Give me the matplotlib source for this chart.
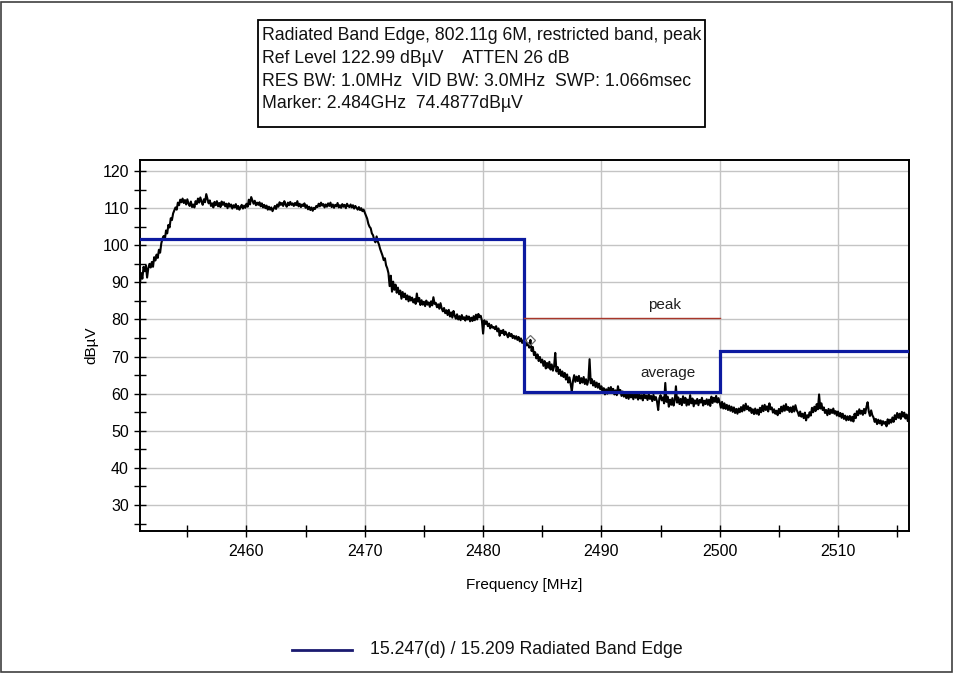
import numpy as np
import matplotlib
matplotlib.use("Agg")
import matplotlib.pyplot as plt
from matplotlib.patches import Rectangle
from matplotlib.lines import Line2D
from matplotlib.ticker import MultipleLocator

plt.rcParams['font.family'] = ['Liberation Sans', 'DejaVu Sans']

# ---- sweep settings (header text) ----
title_lines = [
    "Radiated Band Edge, 802.11g 6M, restricted band, peak",
    "Ref Level 122.99 dB\u00b5V    ATTEN 26 dB",
    "RES BW: 1.0MHz  VID BW: 3.0MHz  SWP: 1.066msec",
    "Marker: 2.484GHz  74.4877dB\u00b5V",
]
ref_level = 122.99
marker_freq_mhz = 2484.0
marker_level = 74.4877

# ---- measured trace: 2451 .. 2516 MHz, 0.1 MHz per point ----
f_start, f_stop = 2451.0, 2516.0
trace_dbuv = [
    89.8, 92.5, 91.0, 94.2, 93.0, 94.5, 91.3, 93.8, 95.0, 94.0,
    95.5, 94.2, 96.8, 95.9, 97.5, 96.6, 98.8, 98.0, 100.5, 101.8,
    102.5, 101.5, 104.0, 103.2, 105.5, 104.8, 107.3, 106.8, 108.6, 109.4,
    110.2, 109.6, 111.5, 110.8, 112.3, 111.6, 112.6, 111.4, 112.2, 111.0,
    112.4, 111.2, 110.6, 111.8, 110.3, 111.0, 110.2, 111.9, 111.1, 112.6,
    111.5, 112.9, 111.8, 110.9, 112.4, 111.6, 113.8, 112.5, 111.3, 112.1,
    110.6, 111.3, 110.2, 111.7, 110.8, 111.9, 110.5, 111.4, 110.3, 111.8,
    110.9, 111.6, 110.5, 111.2, 110.0, 111.3, 110.4, 111.0, 109.9, 110.8,
    110.2, 111.1, 109.8, 110.6, 109.6, 110.3, 110.9, 109.9, 110.7, 110.1,
    111.2, 110.4, 112.3, 111.0, 113.0, 112.1, 111.2, 112.0, 110.8, 111.5,
    110.9, 111.6, 110.5, 111.3, 110.2, 110.9, 110.0, 110.7, 109.6, 110.4,
    109.6, 110.2, 109.2, 109.9, 110.6, 109.8, 111.0, 110.4, 111.6, 110.9,
    111.4, 110.6, 111.9, 111.0, 110.4, 111.5, 110.8, 111.7, 110.9, 111.3,
    110.6, 111.4, 110.8, 111.9, 110.5, 111.2, 110.3, 111.0, 110.6, 111.3,
    110.1, 110.8, 109.7, 110.4, 109.5, 110.2, 109.3, 110.1, 109.8, 110.6,
    110.3, 111.2, 110.5, 111.5, 110.7, 111.1, 110.2, 111.0, 110.4, 111.3,
    110.6, 111.5, 110.3, 111.0, 110.1, 110.9, 110.5, 111.4, 110.2, 110.8,
    110.1, 111.1, 110.4, 110.9, 110.0, 111.2, 110.6, 110.3, 111.0, 110.2,
    110.8, 109.9, 110.6, 110.1, 109.6, 110.3, 109.5, 110.0, 109.2, 109.6,
    108.8, 108.0, 107.2, 105.8, 105.0, 104.6, 103.2, 102.7, 101.4, 100.8,
    102.4, 101.0, 100.2, 99.0, 98.1, 97.2, 96.0, 96.5, 94.6, 93.8,
    92.5, 89.0, 91.8, 87.5, 90.2, 88.0, 89.4, 87.2, 88.6, 86.8,
    87.8, 85.6, 87.4, 86.0, 87.0, 85.4, 86.5, 84.9, 86.2, 85.1,
    85.9, 84.6, 85.5, 84.2, 87.0, 84.8, 85.8, 83.9, 85.2, 84.0,
    84.8, 83.6, 85.1, 84.0, 84.6, 83.4, 84.9, 83.8, 86.0, 84.2,
    84.5, 83.3, 84.1, 82.9, 84.4, 83.0, 82.2, 83.1, 81.7, 82.5,
    81.2, 82.6, 80.8, 81.9, 80.5, 82.3, 81.0, 80.2, 81.4, 80.0,
    80.9, 79.8, 81.2, 80.1, 80.6, 79.7, 81.0, 80.0, 80.8, 79.5,
    80.5, 79.6, 80.9, 79.8, 81.3, 80.0, 81.5, 80.6, 81.0, 79.7,
    76.2, 79.8, 78.8, 79.5, 78.2, 78.9, 77.6, 78.5, 77.8, 78.0,
    77.4, 78.2, 76.8, 77.6, 75.6, 77.0, 76.3, 77.2, 75.8, 76.7,
    76.0, 75.2, 76.4, 75.5, 76.1, 75.0, 75.6, 74.8, 75.5, 74.5,
    75.3, 74.1, 74.9, 73.7, 74.4, 72.8, 74.6, 73.0, 73.6, 72.4,
    74.5, 71.5, 72.6, 70.4, 71.2, 69.5, 70.6, 68.8, 69.9, 68.4,
    69.2, 67.5, 68.8, 66.8, 68.3, 67.0, 68.6, 66.5, 67.9, 66.2,
    67.4, 71.0, 66.0, 67.2, 65.3, 66.5, 64.8, 66.0, 64.5, 65.6,
    63.8, 65.2, 63.0, 64.4, 62.6, 60.6, 63.5, 65.0, 63.2, 64.6,
    63.4, 64.8, 62.8, 64.2, 63.0, 64.5, 62.6, 63.9, 62.4, 63.6,
    69.3, 62.8, 63.9, 62.2, 63.4, 61.8, 63.0, 61.6, 62.7, 61.2,
    62.0, 60.4, 61.5, 59.8, 61.2, 60.0, 61.6, 60.3, 61.8, 60.5,
    61.3, 59.8, 60.9, 59.6, 62.0, 60.2, 61.0, 59.4, 60.6, 59.2,
    60.2, 58.8, 59.9, 58.6, 60.3, 59.0, 59.8, 58.5, 60.1, 58.9,
    59.8, 58.4, 60.0, 58.7, 59.6, 58.2, 60.2, 58.8, 59.5, 58.3,
    59.9, 58.6, 59.4, 58.0, 59.7, 58.3, 59.1, 57.9, 55.6, 58.8,
    59.6, 58.2, 59.0, 57.4, 62.9, 57.8, 59.2, 56.5, 58.4, 57.0,
    58.8, 56.8, 58.2, 62.0, 57.6, 59.0, 57.2, 58.6, 56.9, 59.3,
    57.5, 58.9, 56.8, 58.4, 57.0, 59.6, 57.4, 58.7, 56.6, 58.2,
    57.3, 58.6, 56.9, 58.3, 57.6, 58.9, 56.8, 58.1, 57.2, 58.5,
    57.0, 58.4, 56.7, 59.2, 57.5, 58.9, 57.8, 59.4, 57.6, 58.8,
    57.6, 56.2, 57.8, 56.0, 57.4, 55.9, 57.0, 55.6, 56.8, 55.4,
    56.5, 55.1, 56.3, 54.8, 55.9, 54.6, 56.0, 55.0, 56.4, 55.2,
    56.9, 55.5, 57.3, 55.8, 56.6, 55.4, 56.2, 54.8, 55.8, 54.5,
    56.0, 54.6, 55.7, 54.3, 56.2, 55.0, 56.8, 55.3, 57.0, 55.6,
    56.6, 55.2, 57.4, 55.8, 56.3, 54.9, 55.8, 54.6, 55.4, 54.2,
    55.9, 54.7, 56.5, 55.2, 56.8, 55.4, 57.2, 55.6, 56.4, 55.1,
    56.3, 55.0, 56.6, 55.2, 56.9, 55.6, 55.0, 54.0, 55.2, 53.8,
    54.6, 53.4, 54.9, 52.8, 54.2, 53.6, 55.0, 54.1, 56.2, 55.0,
    56.5, 55.3, 57.2, 55.8, 59.8, 56.0, 57.4, 55.6, 56.3, 54.8,
    55.6, 54.2, 55.9, 54.5, 55.7, 54.8, 56.0, 54.6, 55.3, 54.1,
    55.2, 53.9, 54.8, 53.5, 54.6, 53.2, 54.1, 52.8, 53.9, 52.9,
    54.0, 52.7, 53.8, 52.5, 54.6, 53.4, 55.3, 54.2, 55.8, 54.6,
    55.4, 54.3, 55.9, 54.7, 56.4, 57.7, 55.2, 54.0, 55.5, 54.2,
    53.6, 52.4, 53.2, 51.8, 53.0, 52.0, 52.8, 51.5, 52.6, 51.9,
    52.4, 51.2, 53.1, 51.9, 53.0, 52.2, 53.6, 52.4, 54.2, 53.1,
    54.8, 53.5, 54.6, 53.2, 55.1, 53.8, 54.9, 53.3, 54.4, 52.6,
    53.4,
]
trace_freq = np.linspace(f_start, f_stop, len(trace_dbuv))

# ---- limit line (15.247(d) / 15.209), step edges and levels ----
limit_freq = [2451.0, 2483.5, 2483.5, 2500.0, 2500.0, 2516.0]
limit_level = [101.8, 101.8, 60.5, 60.5, 71.4, 71.4]
peak_limit_freq = [2483.5, 2500.0]
peak_limit_level = [80.5, 80.5]
limit_label = "15.247(d) / 15.209 Radiated Band Edge"

x_ticks = [2460, 2470, 2480, 2490, 2500, 2510]
y_ticks = [30, 40, 50, 60, 70, 80, 90, 100, 110, 120]

W, H = 954, 673
fig = plt.figure(figsize=(W / 100, H / 100), dpi=100)
fig.patch.set_facecolor("white")

# outer frame of the plot window
fig.add_artist(Rectangle((1 / W, 1 / H), (W - 3) / W, (H - 3) / H,
                         transform=fig.transFigure, fill=False,
                         edgecolor="#404040", linewidth=1.2))

ax = fig.add_axes([140 / W, 1 - 531 / H, (909 - 140) / W, (531 - 160) / H])

ax.plot(trace_freq, trace_dbuv, color="black", linewidth=1.5, zorder=3)
ax.plot(limit_freq, limit_level, color="#0c1aa0", linewidth=2.3,
        solid_joinstyle="miter", zorder=4)
ax.plot(peak_limit_freq, peak_limit_level, color="#a8362a", linewidth=1.0, zorder=4)
ax.plot([marker_freq_mhz], [marker_level], marker="D", markersize=5,
        markerfacecolor="none", markeredgecolor="#707070", markeredgewidth=0.9,
        zorder=5)

ax.text(2495.3, 82.0, "peak", fontsize=11, color="#202020", ha="center", va="bottom")
ax.text(2495.6, 65.6, "average", fontsize=11, color="#202020", ha="center", va="center")

ax.set_xlim(f_start, f_stop)
ax.set_ylim(ref_level - 100, ref_level)
ax.set_xticks(x_ticks)
ax.set_yticks(y_ticks)
ax.xaxis.set_minor_locator(MultipleLocator(5))
ax.yaxis.set_minor_locator(MultipleLocator(5))
ax.grid(True, which="major", color="#c4c4c4", linewidth=1.0, zorder=0)
ax.set_axisbelow(True)
ax.tick_params(which="both", direction="inout", length=8, width=1.0,
               colors="black", labelsize=11.5)
ax.tick_params(axis="x", pad=5)
ax.tick_params(axis="y", pad=4)
for s in ax.spines.values():
    s.set_linewidth(1.4)
    s.set_color("black")

ax.set_xlabel("Frequency [MHz]", fontsize=11, labelpad=14)
ax.set_ylabel("dB\u00b5V", fontsize=11, labelpad=3)

# header box
box_l, box_t, box_r, box_b = 258, 20, 705, 127
fig.add_artist(Rectangle((box_l / W, 1 - box_b / H), (box_r - box_l) / W,
                         (box_b - box_t) / H, transform=fig.transFigure,
                         fill=False, edgecolor="black", linewidth=1.3))
for i, line in enumerate(title_lines):
    fig.text(262 / W, 1 - (36 + 22.5 * i) / H, line, fontsize=12.7,
             ha="left", va="center", color="#111111")

# legend
fig.add_artist(Line2D([292 / W, 352 / W], [1 - 650 / H, 1 - 650 / H],
                      transform=fig.transFigure, color="#1a1a70", linewidth=2.0))
fig.text(370 / W, 1 - 650 / H, limit_label, fontsize=12.7, ha="left",
         va="center", color="#111111")

fig.savefig("out.png", dpi=100)
